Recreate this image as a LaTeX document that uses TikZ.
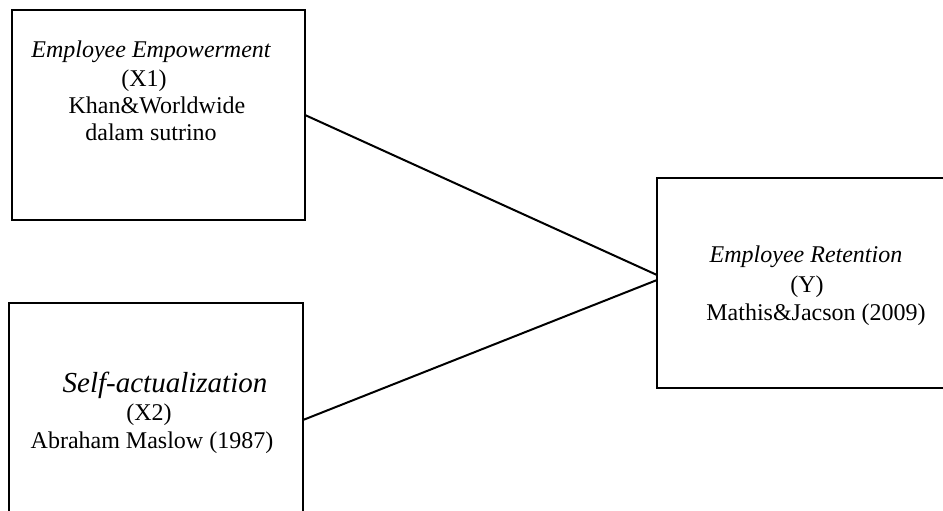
\documentclass[tikz,border=0pt]{standalone}
\usepackage{fontspec}
\setmainfont{Liberation Serif}
\usetikzlibrary{calc}

\begin{document}
\begin{tikzpicture}[x=0.5pt, y=-0.5pt, inner sep=0mm,
		boxstyle/.style={draw, rectangle, line width=1pt, outer sep=0pt},
		textstyle/.style={anchor=base, font=\fontsize{12}{14}\selectfont},
		edgestyle/.style={line width=1pt}]

		\clip (0,0) rectangle (943,510);

		% boxes
		\node [boxstyle, minimum width=146.5pt, minimum height=105pt] (emp) at (158.5,115) {};
		\node [boxstyle, minimum width=147pt, minimum height=117pt] (self) at (156,420) {};
		\node [boxstyle, minimum width=154pt, minimum height=105pt] (ret) at (811,283) {};

		% texts
		\node [textstyle, font=\fontsize{12}{14}\selectfont\itshape] (empName) at (151,57) {Employee Empowerment};
		\node [textstyle] (empCode) at (144,86) {(X1)};
		\node [textstyle] (empRef) at (157,113) {Khan\&Worldwide};
		\node [textstyle] (empRefb) at (151,140) {dalam sutrino};

		\node [textstyle, font=\fontsize{14.5}{16}\selectfont\itshape] (selfName) at (165,392) {Self-actualization};
		\node [textstyle] (selfCode) at (149,420) {(X2)};
		\node [textstyle] (selfRef) at (152,448) {Abraham Maslow (1987)};

		\node [textstyle, font=\fontsize{12}{14}\selectfont\itshape] (retName) at (806,262) {Employee Retention};
		\node [textstyle] (retCode) at (807,292) {(Y)};
		\node [textstyle] (retRef) at (816,320) {Mathis\&Jacson (2009)};

		% connectors
		\draw[edgestyle] (emp.east) -- ($(ret.west)+(0,-8)$);
		\draw[edgestyle] (self.east) -- ($(ret.west)+(0,-3)$);

		\end{tikzpicture}
\end{document}
